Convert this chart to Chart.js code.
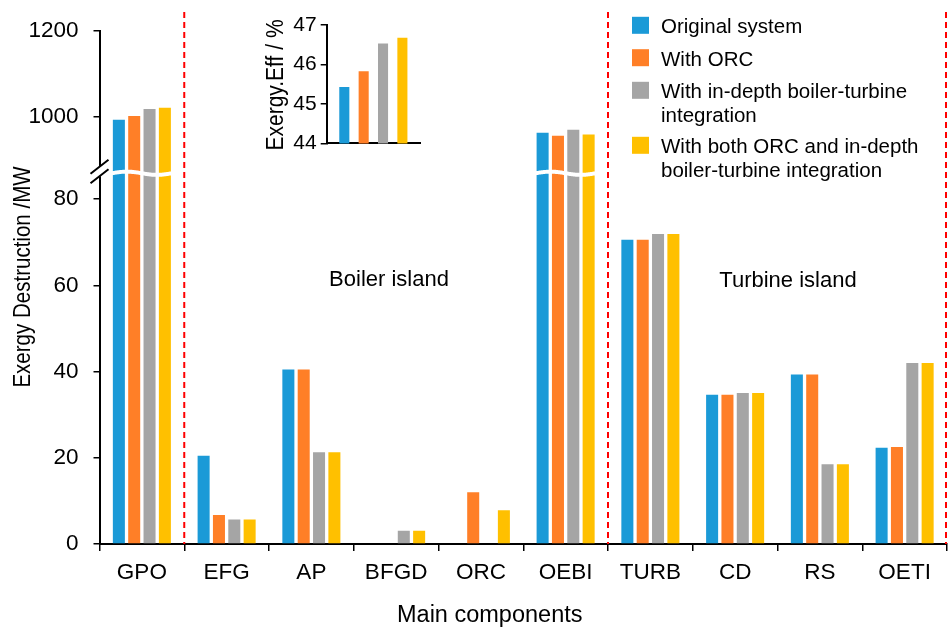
<!DOCTYPE html>
<html><head><meta charset="utf-8">
<script src="https://cdn.jsdelivr.net/npm/chart.js@4"></script>
<style>
html,body{margin:0;padding:0;background:#fff;}
#wrap{position:relative;width:949px;height:628px;overflow:hidden;}
#main{position:absolute;left:0;top:0;}
#inset{position:absolute;left:260px;top:0;}
</style></head><body>
<div id="wrap"><canvas id="main" width="949" height="628"></canvas><canvas id="inset" width="170" height="160"></canvas></div>
<script>
// ---------------- data ----------------
const categories = ['GPO','EFG','AP','BFGD','ORC','OEBI','TURB','CD','RS','OETI'];
const seriesNames = ['Original system','With ORC','With in-depth boiler-turbine integration','With both ORC and in-depth boiler-turbine integration'];
const legendLines = [['Original system'],['With ORC'],['With in-depth boiler-turbine','integration'],['With both ORC and in-depth','boiler-turbine integration']];
const original        = [994, 20.5, 40.5, 0,   0,    964, 70.6, 34.6, 39.3, 22.3];
const withORC         = [1003, 6.7, 40.5, 0,   12.0, 957, 70.6, 34.6, 39.3, 22.5];
const withIntegration = [1019, 5.7, 21.3, 3.1, 0,    971, 71.9, 35.0, 18.5, 42.0];
const withBoth        = [1022, 5.7, 21.3, 3.1, 7.8,  960, 71.9, 35.0, 18.5, 42.0];
const yTicks = [0, 20, 40, 60, 80, 1000, 1200];
const insetEff = [45.43, 45.83, 46.53, 46.68];
const insetTicks = [44, 45, 46, 47];
const regionLabels = ['Boiler island', 'Turbine island'];
const dividerAfter = [0, 5, 9];

// ---------------- styling ----------------
const colors = ['#1B9AD7', '#FF7F27', '#A5A5A5', '#FFC000'];
const FONT = '"Liberation Sans", Arial, sans-serif';
Chart.defaults.font.family = FONT;
Chart.defaults.color = '#000';
const BRK = {lowMax: 86, highMin: 870, ratio: 10};

// broken linear scale: lower 0..lowMax, upper highMin..max compressed by ratio
class BrokenLinearScale extends Chart.LinearScale {
  _frac(v) {
    const hiSpan = (this.max - BRK.highMin) / BRK.ratio;
    const total = BRK.lowMax + hiSpan;
    let u;
    if (v <= BRK.lowMax) u = v;
    else if (v >= BRK.highMin) u = BRK.lowMax + (v - BRK.highMin) / BRK.ratio;
    else u = BRK.lowMax;
    return u / total;
  }
  getPixelForValue(v) {
    if (v === null || v === undefined || isNaN(v)) return NaN;
    return this.getPixelForDecimal(this._frac(v));
  }
  getValueForPixel(p) {
    const hiSpan = (this.max - BRK.highMin) / BRK.ratio;
    const total = BRK.lowMax + hiSpan;
    const u = this.getDecimalForPixel(p) * total;
    return u <= BRK.lowMax ? u : BRK.highMin + (u - BRK.lowMax) * BRK.ratio;
  }
}
BrokenLinearScale.id = 'brokenLinear';
BrokenLinearScale.defaults = {};
Chart.register(BrokenLinearScale);

function rotText(ctx, text, x, y, size, sx) {
  ctx.save();
  ctx.translate(x, y);
  ctx.rotate(-Math.PI / 2);
  ctx.scale(sx, 1);
  ctx.font = size + 'px ' + FONT;
  ctx.fillStyle = '#000';
  ctx.textAlign = 'center';
  ctx.textBaseline = 'middle';
  ctx.fillText(text, 0, 0);
  ctx.restore();
}

function waveBand(ctx, x0, x1, yc, h) {
  const amp = 1.6, per = (x1 - x0);
  ctx.beginPath();
  for (let x = x0; x <= x1; x += 1) {
    const y = yc - h / 2 - amp * Math.sin((x - x0) / per * 2 * Math.PI);
    if (x === x0) ctx.moveTo(x, y); else ctx.lineTo(x, y);
  }
  for (let x = x1; x >= x0; x -= 1) {
    const y = yc + h / 2 - amp * Math.sin((x - x0) / per * 2 * Math.PI);
    ctx.lineTo(x, y);
  }
  ctx.closePath();
  ctx.fillStyle = '#fff';
  ctx.fill();
}

const decor = {
  id: 'decor',
  afterDatasetsDraw(chart) {
    const ctx = chart.ctx;
    const y = chart.scales.y;
    const yb = y.getPixelForValue(BRK.lowMax);
    const series = [original, withORC, withIntegration, withBoth];
    // wavy break across tall bars
    categories.forEach((c, i) => {
      let l = Infinity, r = -Infinity;
      series.forEach((s, d) => {
        if (s[i] > BRK.lowMax) {
          const el = chart.getDatasetMeta(d).data[i];
          l = Math.min(l, el.x - el.width / 2 - 1);
          r = Math.max(r, el.x + el.width / 2 + 1);
        }
      });
      if (r > l) waveBand(ctx, l, r, yb, 4);
    });
    // axis break
    const ax = chart.chartArea.left;
    ctx.save();
    ctx.fillStyle = '#fff';
    ctx.fillRect(ax - 3, yb - 7, 6, 10);
    ctx.strokeStyle = '#000';
    ctx.lineWidth = 2;
    ctx.beginPath();
    ctx.moveTo(ax - 9, yb + 0.5); ctx.lineTo(ax + 9, yb - 13.5);
    ctx.moveTo(ax - 9, yb + 10); ctx.lineTo(ax + 9, yb - 4);
    ctx.stroke();
    ctx.restore();
  },
  afterDraw(chart) {
    const ctx = chart.ctx;
    const xs = chart.scales.x;
    const ca = chart.chartArea;
    const half = (xs.getPixelForValue(1) - xs.getPixelForValue(0)) / 2;
    // red dashed dividers
    ctx.save();
    ctx.strokeStyle = '#FF0000';
    ctx.lineWidth = 2;
    ctx.setLineDash([6, 4]);
    dividerAfter.forEach(i => {
      const x = Math.min(xs.getPixelForValue(i) + half, ca.right - 1);
      ctx.beginPath();
      ctx.moveTo(x, 12);
      ctx.lineTo(x, ca.bottom);
      ctx.stroke();
    });
    ctx.restore();
    // region labels
    ctx.save();
    ctx.fillStyle = '#000';
    ctx.font = '22px ' + FONT;
    ctx.textAlign = 'center';
    ctx.textBaseline = 'alphabetic';
    ctx.fillText(regionLabels[0], 389, 286);
    ctx.fillText(regionLabels[1], 788, 287);
    // x title
    ctx.font = '23.5px ' + FONT;
    ctx.textAlign = 'left';
    ctx.fillText('Main components', 397, 621.5);
    // legend
    ctx.font = '20.5px ' + FONT;
    const baselines = [[33.3], [65.7], [98.3, 121.7], [153.3, 176.7]];
    legendLines.forEach((lines, i) => {
      ctx.fillStyle = colors[i];
      ctx.fillRect(632, baselines[i][0] - 16.5, 17, 17);
      ctx.fillStyle = '#000';
      lines.forEach((t, k) => ctx.fillText(t, 661, baselines[i][k]));
    });
    ctx.restore();
    // y title
    rotText(ctx, 'Exergy Destruction /MW', 23, 277, 24, 0.855);
  }
};

new Chart(document.getElementById('main'), {
  type: 'bar',
  data: {
    labels: categories,
    datasets: [original, withORC, withIntegration, withBoth].map((d, i) => ({
      label: seriesNames[i],
      data: d,
      backgroundColor: colors[i],
      borderWidth: 0,
      barPercentage: 0.784,
      categoryPercentage: 0.724
    }))
  },
  options: {
    responsive: false,
    animation: false,
    devicePixelRatio: 1,
    layout: {padding: {top: 31, right: 2, left: 0, bottom: 0}},
    plugins: {legend: {display: false}, tooltip: {enabled: false}},
    scales: {
      x: {
        type: 'category',
        grid: {display: true, drawOnChartArea: false, drawTicks: true, tickLength: 7, color: '#000', lineWidth: 1.5, offset: true},
        border: {display: true, color: '#000', width: 2},
        ticks: {color: '#000', font: {size: 22.5}, padding: 8, maxRotation: 0, autoSkip: false},
        afterFit(s) { s.height = 84; }
      },
      y: {
        type: 'brokenLinear',
        min: 0, max: 1200,
        afterBuildTicks(s) { s.ticks = yTicks.map(v => ({value: v})); },
        grid: {display: true, drawOnChartArea: false, drawTicks: true, tickLength: 6, color: '#000', lineWidth: 1.5},
        border: {display: true, color: '#000', width: 2},
        ticks: {color: '#000', font: {size: 22.5}, padding: 15, callback: v => String(v)},
        afterFit(s) { s.width = 99.5; }
      }
    }
  },
  plugins: [decor]
});

// ---------------- inset ----------------
const insetDecor = {
  id: 'insetDecor',
  afterDraw(chart) {
    rotText(chart.ctx, 'Exergy.Eff / %', 17, 85, 23, 0.913);
  }
};
new Chart(document.getElementById('inset'), {
  type: 'bar',
  data: {
    labels: ['Exergy efficiency'],
    datasets: insetEff.map((v, i) => ({
      label: seriesNames[i],
      data: [v],
      backgroundColor: colors[i],
      borderWidth: 0,
      barPercentage: 0.52,
      categoryPercentage: 0.83
    }))
  },
  options: {
    responsive: false,
    animation: false,
    devicePixelRatio: 1,
    layout: {padding: {top: 25, right: 10, left: 0, bottom: 14.3}},
    plugins: {legend: {display: false}, tooltip: {enabled: false}},
    scales: {
      x: {
        grid: {display: false},
        border: {display: true, color: '#000', width: 2},
        ticks: {display: false},
        afterFit(s) { s.height = 0; }
      },
      y: {
        min: 44, max: 47,
        afterBuildTicks(s) { s.ticks = insetTicks.map(v => ({value: v})); },
        grid: {display: true, drawOnChartArea: false, drawTicks: true, tickLength: 6, color: '#000', lineWidth: 1.5},
        border: {display: true, color: '#000', width: 2},
        ticks: {color: '#000', font: {size: 21}, padding: 4},
        afterFit(s) { s.width = 66.7; }
      }
    }
  },
  plugins: [insetDecor]
});
</script>
</body></html>
